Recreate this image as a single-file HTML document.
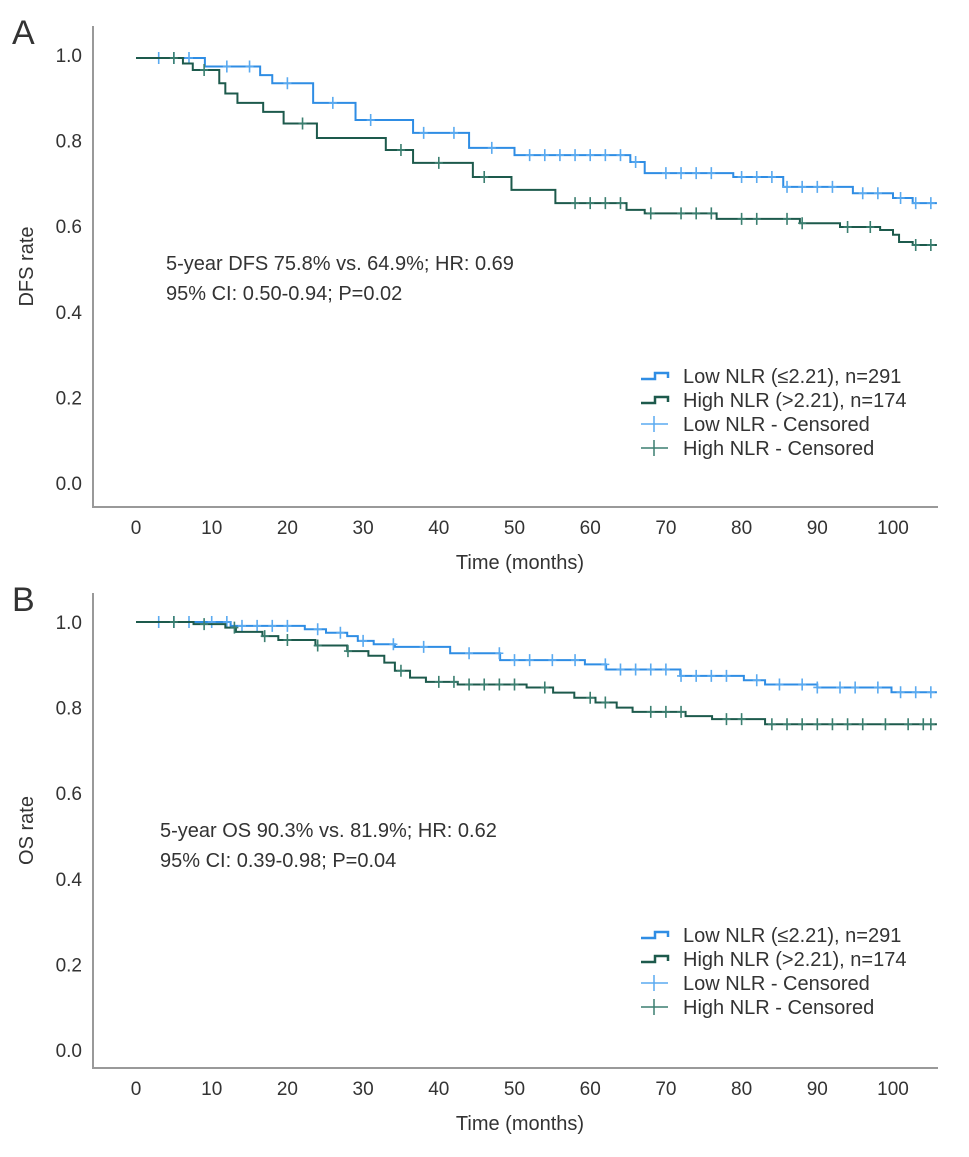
<!DOCTYPE html>
<html><head><meta charset="utf-8"><style>
body{margin:0;background:#fff}
svg text{font-family:"Liberation Sans",sans-serif;fill:#333}
</style></head><body>
<svg id="chart" width="969" height="1152" xmlns="http://www.w3.org/2000/svg"></svg>
<script>
const xTicks=[0,10,20,30,40,50,60,70,80,90,100];
const yTicks=[0.0,0.2,0.4,0.6,0.8,1.0];
const dfsLowT=[0,9.1,16.4,18,23.4,29,36.6,44,50,65.3,67.2,78.9,85.5,94.7,100,102.6];
const dfsLowV=[0.993,0.973,0.953,0.934,0.888,0.848,0.818,0.783,0.766,0.75,0.724,0.715,0.692,0.677,0.666,0.654,0.645];
const dfsHighT=[0,6.2,7.5,11,11.8,13.4,16.8,19.5,23.9,33,36.6,44.5,49.6,55.4,64.8,67.2,76.7,87.7,93,98.3,100,100.8,102.6];
const dfsHighV=[0.993,0.98,0.965,0.934,0.91,0.888,0.867,0.84,0.806,0.778,0.748,0.715,0.685,0.654,0.638,0.63,0.617,0.607,0.598,0.591,0.58,0.563,0.556,0.544];
const osLowT=[0,12.5,22.3,25.1,27.9,29.3,31.4,34.2,41.5,48.1,59.3,62.1,71.9,80.3,83.1,90,99.8];
const osLowV=[1.0,0.991,0.983,0.975,0.967,0.956,0.948,0.942,0.927,0.911,0.901,0.889,0.874,0.864,0.854,0.847,0.836];
const osHighT=[0,7.6,11.8,13.2,16.7,18.8,23.7,27.9,30.7,32.8,34.2,36.2,38.3,42.5,51.6,55.1,57.9,60.7,63.5,65.6,72.6,76.1,83.1];
const osHighV=[1.0,0.995,0.987,0.977,0.967,0.958,0.945,0.932,0.921,0.905,0.886,0.87,0.86,0.854,0.847,0.835,0.823,0.812,0.8,0.79,0.78,0.773,0.761];
const dfsLowC=[3,5,7,12,15,20,26,31,38,42,47,52,54,56,58,60,62,64,66,70,72,74,76,80,82,84,86,88,90,92,96,98,101,103,105];
const dfsHighC=[5,9,22,35,40,46,58,60,62,64,68,72,74,76,80,82,86,88,94,97,103,105];
const osLowC=[3,5,7,10,12,14,16,18,20,24,27,30,34,38,44,48,50,52,55,58,62,64,66,68,70,72,74,76,78,82,85,88,90,93,95,98,101,103,105];
const osHighC=[5,9,13,17,20,24,28,35,40,42,44,46,48,50,54,60,62,68,70,72,78,80,84,86,88,90,92,94,96,99,102,104,105];
const C_LOW="#2f8de4",C_HIGH="#1d5a4c",C_LOWC="#5aaaf0",C_HIGHC="#3b7f70";
const svg=document.getElementById('chart');
const NS="http://www.w3.org/2000/svg";
function mk(tag,attrs,parent){const e=document.createElementNS(NS,tag);for(const k in attrs)e.setAttribute(k,attrs[k]);(parent||svg).appendChild(e);return e;}
const xS=m=>136+m*7.57;
const END=105.8;
function stepVal(T,V,t){let v=V[0];for(let i=0;i<T.length;i++){if(T[i]<=t)v=V[i];}return v;}
function panel(o){
  const g=mk('g',{});
  
  
  const y0=o.y0; const yS=v=>y0-v*428;
  const lbl=mk('text',{x:12,y:o.top+18,'font-size':34},g);lbl.textContent=o.letter;
  
  const ax=mk('path',{d:`M93 ${o.top} V${o.bottom} H938`,stroke:'#999',fill:'none','stroke-width':2},g);
  
  yTicks.forEach(v=>{const t=mk('text',{x:82,y:yS(v)+7,'font-size':19,'text-anchor':'end'},g);t.textContent=v.toFixed(1);
    });
  xTicks.forEach(v=>{const t=mk('text',{x:xS(v),y:o.bottom+27,'font-size':19,'text-anchor':'middle'},g);t.textContent=v;
    });
  const xt=mk('text',{x:520,y:o.bottom+62,'font-size':20,'text-anchor':'middle'},g);xt.textContent='Time (months)';
  
  const cy=(o.top+o.bottom)/2;
  const yt=mk('text',{x:0,y:0,'font-size':20,'text-anchor':'middle',transform:`translate(33 ${cy}) rotate(-90)`},g);yt.textContent=o.ytitle;
  
  o.notes.forEach((s,i)=>{const t=mk('text',{x:o.noteX,y:o.noteY+i*30,'font-size':20},g);t.textContent=s;
    });
  o.series.forEach(s=>{
    let d=`M${xS(s.T[0])} ${yS(s.V[0])}`;
    for(let i=1;i<s.T.length;i++){d+=` H${xS(s.T[i])} V${yS(s.V[i])}`;}
    d+=` H${xS(END)}`;
    const p=mk('path',{d,stroke:s.col,fill:'none','stroke-width':2},g);
    
    s.C.forEach(t=>{const x=xS(t),y=yS(stepVal(s.T,s.V,t));
      const c=mk('path',{d:`M${x} ${y-6} V${y+6} M${x-4} ${y} H${x+4}`,stroke:s.ccol,'stroke-width':1.6},g);
      });
  });
  const leg=[['Low NLR (≤2.21), n=291',C_LOW,true],['High NLR (>2.21), n=174',C_HIGH,true],['Low NLR - Censored',C_LOWC,false],['High NLR - Censored',C_HIGHC,false]];
  leg.forEach((l,i)=>{const ly=o.legY+i*24;
    const sw=l[2]?mk('path',{d:`M641 ${ly+3} H655 V${ly-3} H668 V${ly+2}`,stroke:l[1],fill:'none','stroke-width':2.5},g)
      :mk('path',{d:`M641 ${ly} H668 M654 ${ly-8} V${ly+8}`,stroke:l[1],fill:'none','stroke-width':1.5},g);
    
    const t=mk('text',{x:683,y:ly+7,'font-size':20},g);t.textContent=l[0];
    });
}
panel({name:'panel-a-dfs',letter:'A',top:26,bottom:507,y0:483,ytitle:'DFS rate',noteX:166,noteY:270,
  notes:['5-year DFS 75.8% vs. 64.9%; HR: 0.69','95% CI: 0.50-0.94; P=0.02'],legY:376,
  series:[{name:'dfs-low-nlr-curve',T:dfsLowT,V:dfsLowV,C:dfsLowC,col:C_LOW,ccol:C_LOWC},
          {name:'dfs-high-nlr-curve',T:dfsHighT,V:dfsHighV,C:dfsHighC,col:C_HIGH,ccol:C_HIGHC}]});
panel({name:'panel-b-os',letter:'B',top:593,bottom:1068,y0:1050,ytitle:'OS rate',noteX:160,noteY:837,
  notes:['5-year OS 90.3% vs. 81.9%; HR: 0.62','95% CI: 0.39-0.98; P=0.04'],legY:935,
  series:[{name:'os-low-nlr-curve',T:osLowT,V:osLowV,C:osLowC,col:C_LOW,ccol:C_LOWC},
          {name:'os-high-nlr-curve',T:osHighT,V:osHighV,C:osHighC,col:C_HIGH,ccol:C_HIGHC}]});
</script>
</body></html>
